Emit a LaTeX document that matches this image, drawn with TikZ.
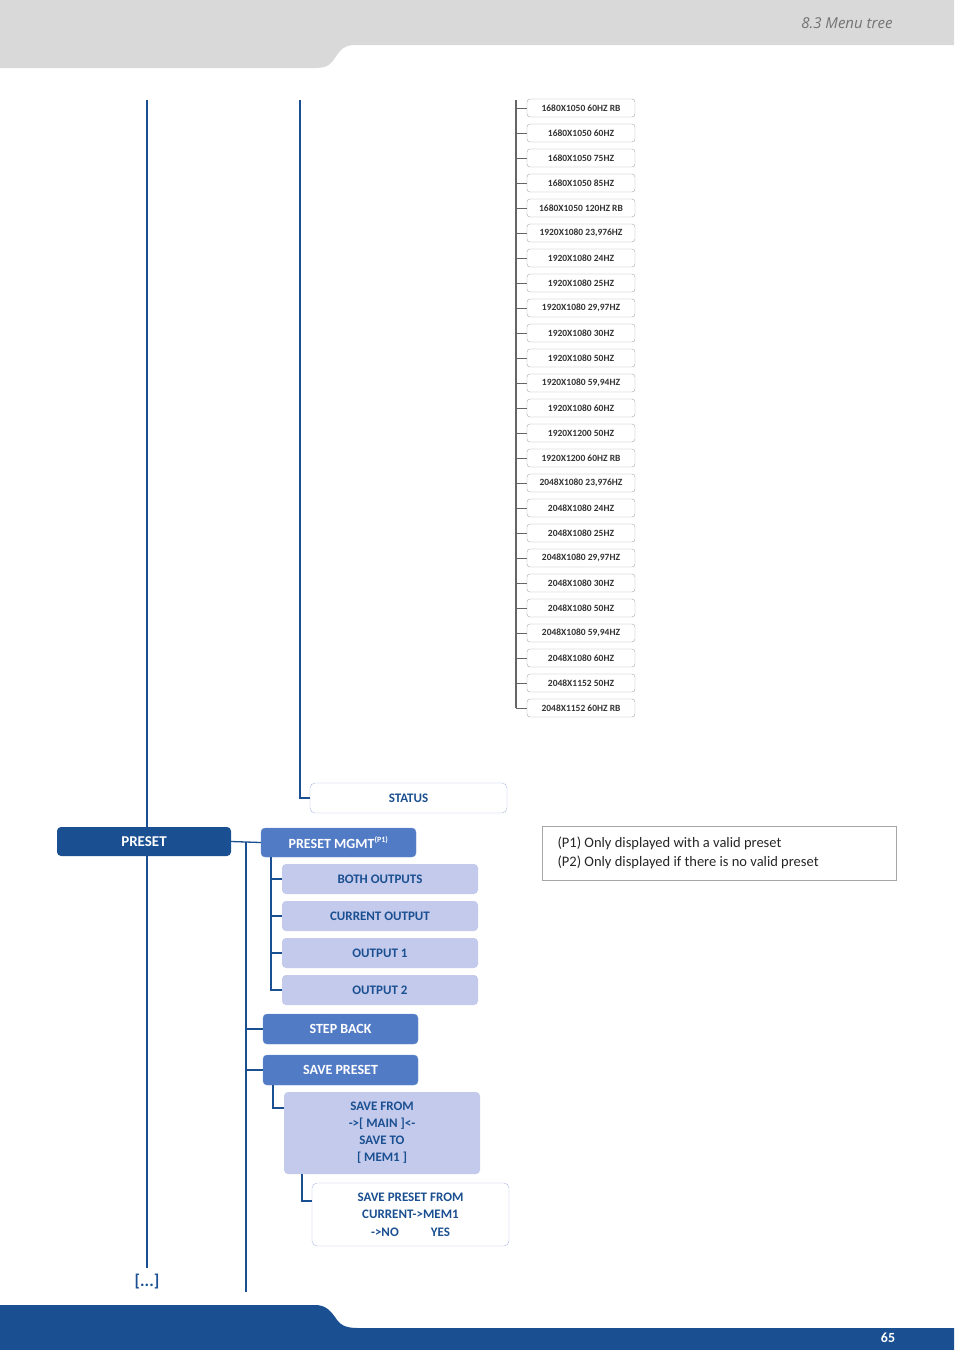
\documentclass[tikz,border=0pt]{standalone}
\usepackage{fontspec}
\setmainfont{Carlito}
\newfontfamily\hdfont{Open Sans}
\begin{document}
\begin{tikzpicture}[x=1pt,y=-1pt,
  dk/.style={draw=none,fill=dblue,rounded corners=4pt,text=white,font=\bfseries\fontsize{15}{15}\selectfont,inner sep=0},
  md/.style={draw=mblue!85!white,fill=mblue,rounded corners=4pt,text=white,font=\bfseries\fontsize{14}{14}\selectfont,inner sep=0},
  lt/.style={draw=none,fill=lblue,rounded corners=4pt,text=dblue,font=\bfseries\fontsize{13}{13}\selectfont,inner sep=0},
  wt/.style={draw=lblue!80!mblue,fill=white,rounded corners=5pt,text=dblue,font=\bfseries\fontsize{13}{13}\selectfont,inner sep=0,align=center},
  res/.style={draw=gray!70,fill=white,rounded corners=3pt,minimum width=108pt,minimum height=18pt,inner sep=0,font=\bfseries\fontsize{9.5}{9.5}\selectfont,text=black!80},
  bl/.style={draw=dblue,line width=2pt},
  bt/.style={draw=dblue,line width=1.3pt}]
\definecolor{dblue}{HTML}{1A4F91}
\definecolor{mblue}{HTML}{527BC6}
\definecolor{lblue}{HTML}{C3CAEB}
\useasboundingbox (0,0) rectangle (954,1350);
% header
\fill[gray!30] (0,0) -- (954,0) -- (954,45) -- (355,45) .. controls (340,45) and (338,55) .. (332,62) .. controls (328,67) and (322,68) .. (315,68) -- (0,68) -- cycle;
\node[anchor=east,font=\hdfont\itshape\fontsize{15}{15}\selectfont,text=gray!90!black] (hd) at (896,23) {8.3 Menu tree};
% footer
\fill[dblue] (0,1305) -- (315,1305) .. controls (325,1305) and (330,1310) .. (335,1317) .. controls (340,1325) and (345,1328) .. (358,1328) -- (954,1328) -- (954,1350) -- (0,1350) -- cycle;
\node[text=white,font=\bfseries\fontsize{14}{14}\selectfont] (pg) at (888,1338) {65};
% main verticals
\coordinate (t1) at (147,100); \coordinate (b1) at (147,1268);
\draw[bl,line width=2.6pt] (t1) -- (b1);
\node[text=dblue,font=\bfseries\fontsize{17}{17}\selectfont] (dots) at (147,1282) {[...]};
\node[wt,minimum width=197pt,minimum height=30pt] (status) at (408.5,798) {STATUS};
\coordinate (t2) at (300,100);
\draw[bt] (t2) |- (status.west);
% resolution list
\coordinate (rt) at (516,100); \coordinate (rb) at (516,708);
\draw[gray!80!black,line width=1.5pt] (rt) -- (rb);
\foreach \t [count=\i from 0] in {1680X1050 60HZ RB,1680X1050 60HZ,1680X1050 75HZ,1680X1050 85HZ,1680X1050 120HZ RB,1920X1080 23{,}976HZ,1920X1080 24HZ,1920X1080 25HZ,1920X1080 29{,}97HZ,1920X1080 30HZ,1920X1080 50HZ,1920X1080 59{,}94HZ,1920X1080 60HZ,1920X1200 50HZ,1920X1200 60HZ RB,2048X1080 23{,}976HZ,2048X1080 24HZ,2048X1080 25HZ,2048X1080 29{,}97HZ,2048X1080 30HZ,2048X1080 50HZ,2048X1080 59{,}94HZ,2048X1080 60HZ,2048X1152 50HZ,2048X1152 60HZ RB}{
  \node[res] (r\i) at (581,108+25*\i) {\t};
  \draw[gray!80!black,line width=1pt] (r\i.west) -- ++(-11,0);
}
% preset
\node[dk,minimum width=174pt,minimum height=29pt] (preset) at (144,841.5) {PRESET};
\node[md,minimum width=155pt,minimum height=29pt] (mgmt) at (338.5,842.5) {PRESET MGMT\textsuperscript{\fontsize{8}{8}\selectfont(P1)}};
\draw[bt] (preset.east) -- (mgmt.west);
\coordinate (v3t) at (246,842); \coordinate (v3b) at (246,1292);
\draw[bt,line width=1.6pt] (v3t) -- (v3b);
\foreach \n/\t/\y in {bo/BOTH OUTPUTS/879,co/CURRENT OUTPUT/916,o1/OUTPUT 1/953,o2/OUTPUT 2/990}{
  \node[lt,minimum width=196pt,minimum height=30pt] (\n) at (380,\y) {\t};
}
\coordinate (mv) at (271,857);
\draw[bt] (mv) |- (o2.west);
\foreach \n in {bo,co,o1}{\draw[bt] (\n.west) -- ++(-11,0);}
\node[md,minimum width=155pt,minimum height=30pt] (sb) at (340.5,1029) {STEP BACK};
\node[md,minimum width=155pt,minimum height=30pt] (sp) at (340.5,1070) {SAVE PRESET};
\draw[bt] (sb.west) -- ++(-16,0);
\draw[bt] (sp.west) -- ++(-16,0);
\node[lt,minimum width=196pt,minimum height=82pt,align=center,font=\bfseries\fontsize{13}{17}\selectfont] (sf) at (382,1133) {SAVE FROM\\{}->[ MAIN ]<-\\SAVE TO\\{}[ MEM1 ]};
\coordinate (c1) at (273,1085);
\draw[bt] (c1) |- (sf.west |- 0,1108);
\node[wt,minimum width=197pt,minimum height=63pt,font=\bfseries\fontsize{13}{17.5}\selectfont] (spf) at (410.5,1214.5) {SAVE PRESET FROM\\CURRENT->MEM1\\{}->NO\hspace{32pt}YES};
\coordinate (c2) at (302,1174);
\draw[bt] (c2) |- (spf.west |- 0,1201);
% note
\node[draw=gray!70,minimum width=354pt,minimum height=54pt,inner sep=0] (note) at (719,853) {};
\node[anchor=west,align=left,font=\fontsize{14.5}{19}\selectfont,text=black!85] (nt) at (554,853) {(P1) Only displayed with a valid preset\\(P2) Only displayed if there is no valid preset};
\end{tikzpicture}
\end{document}
